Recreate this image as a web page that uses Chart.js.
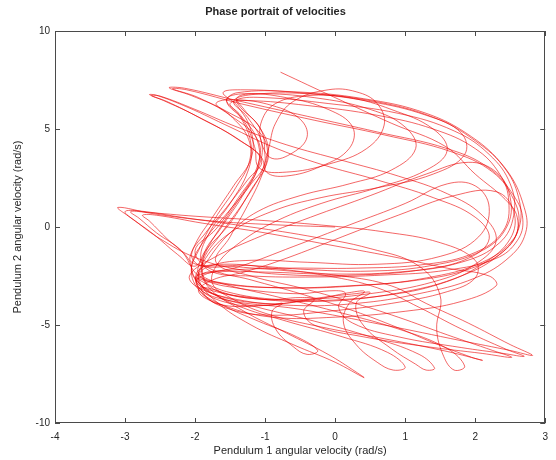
<!DOCTYPE html>
<html>
<head>
<meta charset="utf-8">
<title>Phase portrait of velocities</title>
<script src="https://cdn.jsdelivr.net/npm/chart.js@4.4.1/dist/chart.umd.min.js"></script>
<style>
  html, body { margin: 0; padding: 0; background: #ffffff; }
  canvas { display: block; }
</style>
</head>
<body>
<canvas id="phaseChart" width="556" height="460"></canvas>
<script>
// Axis ticks
const xTicks = [-4, -3, -2, -1, 0, 1, 2, 3];
const yTicks = [-10, -5, 0, 5, 10];

// Trajectory, piece by piece: [omega1, omega2] in rad/s
const startRun = [[0.0,0.0],[-0.9,0.12],[-1.8,0.32],[-2.6,0.68],[-3.1,1.0],[-2.95,0.55],[-2.6,-0.35],[-2.25,-1.4],[-2.0,-2.0]];
const tipLoopA = [[-1.85,-1.2],[-1.5,0.2],[-1.2,1.9],[-0.98,3.3],[-1.05,4.7],[-1.55,5.9],[-2.05,6.7],[-2.37,7.1],[-2.15,7.08],[-1.4,6.45],[-0.4,5.65],[0.6,4.85],[1.6,4.0],[2.2,3.0],[2.55,1.6],[2.68,0.4],[2.6,-0.7],[2.3,-1.6],[1.6,-2.2],[0.7,-2.45],[-0.3,-2.55],[-1.2,-2.5],[-1.75,-2.3]];
const eyeLoop1 = [[-1.92,-1.6],[-1.78,-0.2],[-1.5,1.2],[-1.25,2.8],[-1.2,4.2],[-1.35,5.6],[-1.55,6.5],[-1.3,6.8],[-0.7,6.6],[-0.1,6.0],[0.25,5.1],[0.2,4.0],[-0.2,3.1],[-0.7,2.6],[-0.98,2.8]];
const eyeLoop2 = [[-1.0,3.6],[-1.05,4.9],[-1.3,6.0],[-1.4,6.6],[-1.1,6.8],[-0.3,6.6],[0.5,6.0],[1.0,5.1],[1.15,4.0],[0.8,2.9],[0.2,2.2],[-0.5,1.6],[-1.1,0.8],[-1.5,-0.3],[-1.8,-1.6],[-1.98,-2.8]];
const wing1 = [[-1.7,-3.6],[-0.5,-4.2],[0.7,-5.0],[1.8,-5.8],[2.5,-6.3],[2.82,-6.55],[2.5,-6.0],[1.9,-4.9],[1.3,-3.9],[0.8,-3.0],[0.1,-2.5],[-0.8,-2.2],[-1.5,-2.0],[-2.05,-1.8]];
const bigLoop1 = [[-2.0,-0.9],[-1.75,0.5],[-1.45,2.1],[-1.2,3.5],[-1.2,4.9],[-1.4,6.2],[-1.6,6.85],[-1.35,7.0],[-0.5,6.85],[0.5,6.45],[1.4,5.6],[2.0,4.4],[2.45,2.9],[2.7,1.0],[2.72,-0.3],[2.5,-1.5],[2.0,-2.6],[1.2,-3.4],[0.3,-3.9],[-0.6,-4.0],[-1.4,-3.7],[-1.95,-3.1],[-2.08,-2.5]];
const diagLoop1 = [[-1.8,-1.7],[-1.15,-0.6],[-0.35,0.5],[0.5,1.6],[1.3,2.7],[1.9,3.3],[2.3,2.8],[2.5,1.5],[2.45,0.0],[2.1,-1.2],[1.4,-1.95],[0.5,-2.25],[-0.5,-2.15],[-1.3,-1.95],[-1.9,-2.0]];
const tipLoopB = [[-2.05,-1.4],[-1.85,-0.3],[-1.55,1.0],[-1.25,2.4],[-1.05,3.4],[-1.4,4.5],[-2.0,5.7],[-2.45,6.45],[-2.65,6.75],[-2.55,6.72],[-2.1,6.1],[-1.5,5.1],[-0.9,4.1],[-0.2,3.2],[0.6,2.4],[1.4,1.5],[2.0,0.5],[2.2,-0.6],[1.9,-1.6],[1.2,-2.2],[0.3,-2.45],[-0.6,-2.45],[-1.4,-2.15],[-2.0,-1.55],[-2.5,-0.6],[-2.85,0.3],[-3.0,0.78],[-2.8,0.82],[-2.2,0.5],[-1.3,0.05],[-0.4,-0.45],[0.5,-1.1],[1.2,-2.0],[1.5,-3.5],[1.45,-5.2],[1.55,-6.6],[1.7,-7.3],[1.85,-7.1],[1.6,-6.2],[0.9,-5.2],[0.0,-4.3],[-0.9,-3.5],[-1.6,-2.9],[-1.95,-2.4]];
const eyeLoop3 = [[-1.85,-1.3],[-1.6,0.2],[-1.32,1.7],[-1.1,3.0],[-1.05,4.3],[-1.25,5.6],[-1.45,6.4],[-1.2,6.75],[-0.4,6.8],[0.5,6.4],[1.3,5.7],[1.8,4.8],[1.85,3.7],[1.4,2.7],[0.6,2.0],[-0.2,1.5],[-0.9,0.8],[-1.5,-0.3],[-1.85,-1.6],[-1.95,-2.8]];
const wing2 = [[-1.7,-3.3],[-1.0,-3.7],[-0.5,-3.6],[-0.3,-3.7],[-0.45,-4.3],[-0.3,-5.0],[0.4,-5.6],[1.3,-6.1],[2.1,-6.45],[2.52,-6.65],[2.25,-6.3],[1.6,-5.5],[0.9,-4.6],[0.2,-3.8],[-0.5,-3.1],[-1.2,-2.5],[-1.7,-1.8]];
const bigLoop2 = [[-1.5,-0.5],[-1.25,1.1],[-1.05,2.6],[-0.95,3.9],[-1.1,5.2],[-1.35,6.1],[-1.4,6.5],[-1.0,6.6],[-0.1,6.3],[0.9,5.8],[1.7,4.9],[2.2,3.7],[2.5,2.2],[2.55,0.6],[2.35,-0.8],[1.8,-1.8],[0.9,-2.3],[-0.1,-2.4],[-1.0,-2.3],[-1.7,-2.3],[-2.0,-2.6]];
const hookLoop1 = [[-1.75,-3.4],[-1.0,-3.9],[-0.3,-3.7],[0.2,-3.35],[0.42,-3.3],[0.2,-3.9],[0.12,-4.9],[0.3,-6.0],[0.6,-6.9],[0.83,-7.3],[1.0,-7.15],[0.75,-6.4],[0.1,-5.6],[-0.7,-4.8],[-1.4,-4.0],[-1.9,-3.0],[-2.05,-2.2]];
const eyeLoop5 = [[-1.95,-1.2],[-1.72,0.4],[-1.42,2.0],[-1.22,3.4],[-1.25,4.6],[-1.5,5.7],[-1.7,6.3],[-1.45,6.5],[-0.9,6.2],[-0.5,5.5],[-0.4,4.6],[-0.6,3.8],[-0.9,3.5],[-1.05,4.3],[-1.05,5.4],[-0.85,6.3],[-0.4,6.7],[0.2,6.6],[0.8,6.0],[1.4,5.0],[1.6,3.9],[1.3,2.9],[0.6,2.0],[-0.2,1.2],[-0.9,0.2],[-1.4,-0.9],[-1.7,-2.0],[-1.75,-2.9]];
const wing3 = [[-1.5,-3.6],[-1.0,-4.4],[-0.2,-5.1],[0.7,-5.7],[1.6,-6.35],[2.1,-6.8],[1.95,-6.65],[1.4,-5.9],[0.8,-5.0],[0.2,-4.2],[-0.5,-3.4],[-1.2,-2.7],[-1.8,-2.1]];
const tipLoopC = [[-2.0,-1.2],[-1.7,-0.1],[-1.38,1.5],[-1.12,3.0],[-1.1,4.4],[-1.5,5.7],[-1.95,6.6],[-2.32,7.05],[-2.12,7.0],[-1.3,6.25],[-0.3,5.45],[0.7,4.7],[1.65,3.85],[2.25,2.8],[2.55,1.4],[2.62,0.1],[2.45,-1.1],[1.95,-2.1],[1.2,-2.7],[0.2,-3.0],[-0.8,-3.1],[-1.6,-2.9],[-1.95,-2.5]];
const leftTipLoop = [[-2.2,-1.2],[-2.55,-0.3],[-2.8,0.45],[-2.92,0.78],[-2.7,0.75],[-2.0,0.55],[-1.1,0.35],[-0.2,0.1],[0.7,-0.25],[1.5,-0.8],[2.0,-1.7],[2.0,-2.6],[1.6,-3.3],[0.8,-3.9],[-0.1,-4.3],[-0.9,-4.5],[-1.5,-4.2],[-1.9,-3.4]];
const diagLoop2 = [[-1.95,-2.6],[-1.35,-2.0],[-0.6,-1.0],[0.2,0.1],[1.0,1.2],[1.6,2.2],[2.0,2.1],[2.2,1.0],[2.05,-0.5],[1.5,-1.5],[0.6,-1.9],[-0.4,-1.8],[-1.2,-1.7],[-1.8,-2.0],[-1.95,-2.6]];
const lowTipLoop = [[-1.7,-3.8],[-1.2,-5.0],[-0.6,-6.0],[0.0,-6.9],[0.41,-7.68],[0.3,-7.4],[-0.1,-6.5],[-0.7,-5.4],[-1.3,-4.3],[-1.8,-3.1]];
const eyeLoop4 = [[-1.9,-1.9],[-1.62,-0.3],[-1.3,1.3],[-1.05,2.8],[-0.95,4.0],[-0.85,5.3],[-0.6,6.4],[-0.1,7.0],[0.3,6.9],[0.6,6.3],[0.7,5.2],[0.45,4.0],[-0.1,3.2],[-0.7,2.8],[-1.08,3.0]];
const bigLoop3 = [[-1.15,4.1],[-1.3,5.4],[-1.55,6.4],[-1.4,6.85],[-0.6,6.9],[0.4,6.55],[1.3,5.8],[1.95,4.6],[2.4,3.1],[2.62,1.5],[2.62,-0.1],[2.35,-1.4],[1.8,-2.5],[1.0,-3.3],[0.1,-3.7],[-0.8,-3.7],[-1.55,-3.3],[-1.98,-2.6]];
const wing4 = [[-1.6,-3.0],[-0.6,-3.4],[0.0,-3.25],[0.15,-3.4],[0.05,-4.1],[0.25,-4.9],[0.9,-5.6],[1.8,-6.15],[2.4,-6.45],[2.7,-6.6],[2.45,-6.25],[1.8,-5.2],[1.2,-4.1],[0.6,-3.1],[-0.1,-2.5],[-0.9,-2.1],[-1.6,-1.9],[-1.95,-2.2]];
const hookLoop2 = [[-1.95,-3.1],[-1.5,-3.9],[-0.95,-4.0],[-0.75,-3.9],[-0.9,-4.3],[-0.85,-5.2],[-0.6,-6.1],[-0.4,-6.5],[-0.25,-6.3],[-0.55,-5.6],[-1.1,-4.8],[-1.6,-4.0],[-1.95,-3.2]];
const tipLoopD = [[-2.05,-2.0],[-1.85,-0.6],[-1.52,0.8],[-1.2,2.2],[-1.02,3.3],[-1.35,4.4],[-1.95,5.6],[-2.4,6.4],[-2.62,6.7],[-2.5,6.68],[-2.0,6.0],[-1.4,5.1],[-0.7,4.2],[0.1,3.4],[0.9,2.6],[1.6,1.7],[2.1,0.6],[2.3,-0.7],[2.0,-1.9],[1.4,-2.8],[0.5,-3.4],[-0.5,-3.7],[-1.3,-3.6],[-1.9,-3.1]];
const hookLoop3 = [[-1.7,-3.9],[-1.0,-4.0],[-0.2,-3.6],[0.3,-3.4],[0.5,-3.35],[0.3,-3.9],[0.4,-5.0],[0.8,-6.2],[1.15,-7.0],[1.3,-7.3],[1.42,-7.2],[1.2,-6.5],[0.5,-5.6],[-0.3,-4.8],[-1.1,-4.1],[-1.7,-3.5],[-2.0,-2.6]];
const leftTipLoop2 = [[-2.1,-1.6],[-2.4,-0.6],[-2.65,0.3],[-2.75,0.6],[-2.55,0.6],[-1.9,0.2],[-1.0,-0.3],[-0.1,-0.9],[0.8,-1.5],[1.6,-2.1],[2.2,-2.5],[2.3,-3.0],[1.8,-3.8],[1.0,-4.3],[0.0,-4.6],[-0.9,-4.6],[-1.6,-4.0],[-1.95,-3.3]];
const diagLoop3 = [[-1.75,-2.7],[-1.3,-2.3],[-0.7,-1.6],[0.1,-0.5],[0.9,0.6],[1.7,1.6],[2.3,1.8],[2.55,0.8],[2.5,-0.6],[2.1,-1.9],[1.5,-2.9],[0.7,-3.5],[-0.3,-3.8],[-1.2,-3.6],[-1.8,-3.0]];
const bigLoop4 = [[-1.88,-1.5],[-1.62,0.0],[-1.32,1.6],[-1.1,3.1],[-1.12,4.5],[-1.35,5.7],[-1.5,6.3],[-1.25,6.45],[-0.4,6.2],[0.6,5.7],[1.4,5.0],[2.0,4.0],[2.35,2.7],[2.48,1.3],[2.4,-0.2],[2.0,-1.3],[1.3,-1.9],[0.3,-2.1],[-0.7,-2.1],[-1.5,-2.2],[-1.9,-2.4]];
const endRun = [[-1.7,-2.8],[-0.8,-3.1],[0.3,-3.0],[1.3,-2.6],[2.1,-1.8],[2.55,-0.6],[2.6,0.5],[2.43,1.4],[2.0,2.7],[1.58,4.1],[0.8,5.3],[0.0,6.6],[-0.78,7.9]];

const pieces = [startRun, tipLoopA, eyeLoop1, eyeLoop2, wing1, bigLoop1, diagLoop1, tipLoopB,
  eyeLoop3, wing2, bigLoop2, hookLoop1, eyeLoop5, wing3, tipLoopC, leftTipLoop, diagLoop2,
  lowTipLoop, eyeLoop4, bigLoop3, wing4, hookLoop2, tipLoopD, hookLoop3, leftTipLoop2,
  diagLoop3, bigLoop4, endRun];

const trajectory = [];
pieces.forEach(p => p.forEach(pt => trajectory.push({x: pt[0], y: pt[1]})));

const axisColor = '#4a4a4a';
const textColor = '#262626';
const fontFamily = '"Liberation Sans", Arial, Helvetica, sans-serif';

// Box round the plot with inward tick marks, Octave style
const framePlugin = {
  id: 'frame',
  afterDatasetsDraw(chart) {
    const {ctx, chartArea: a, scales: {x, y}} = chart;
    const len = 5;
    ctx.save();
    ctx.strokeStyle = axisColor;
    ctx.lineWidth = 1;
    ctx.strokeRect(Math.round(a.left) + 0.5, Math.round(a.top) + 0.5,
      Math.round(a.width) - 1, Math.round(a.height) - 1);
    ctx.beginPath();
    xTicks.forEach(v => {
      const px = Math.round(x.getPixelForValue(v)) + 0.5;
      ctx.moveTo(px, a.bottom); ctx.lineTo(px, a.bottom - len);
      ctx.moveTo(px, a.top); ctx.lineTo(px, a.top + len);
    });
    yTicks.forEach(v => {
      const py = Math.round(y.getPixelForValue(v)) + 0.5;
      ctx.moveTo(a.left, py); ctx.lineTo(a.left + len, py);
      ctx.moveTo(a.right, py); ctx.lineTo(a.right - len, py);
    });
    ctx.stroke();
    ctx.restore();
  }
};

new Chart(document.getElementById('phaseChart'), {
  type: 'scatter',
  data: {
    datasets: [{
      data: trajectory,
      showLine: true,
      borderColor: 'rgba(235, 0, 0, 0.8)',
      borderWidth: 0.75,
      pointRadius: 0,
      tension: 0.4,
      fill: false
    }]
  },
  options: {
    responsive: false,
    animation: false,
    layout: { padding: { top: 0, right: 5, bottom: 0, left: 0 } },
    plugins: {
      legend: { display: false },
      tooltip: { enabled: false },
      title: {
        display: true,
        text: 'Phase portrait of velocities',
        color: textColor,
        font: { family: fontFamily, size: 11, weight: 'bold' },
        padding: { top: 5, bottom: 12.8 }
      }
    },
    scales: {
      x: {
        type: 'linear',
        min: -4, max: 3,
        afterFit(scale) { scale.height = 37; },
        afterBuildTicks(scale) { scale.ticks = xTicks.map(v => ({value: v})); },
        grid: { display: false, drawTicks: false },
        border: { display: false },
        ticks: { color: textColor, padding: 8, font: { family: fontFamily, size: 10 } },
        title: {
          display: true,
          text: 'Pendulum 1 angular velocity (rad/s)',
          color: textColor,
          font: { family: fontFamily, size: 11 },
          padding: { top: 0, bottom: 2 }
        }
      },
      y: {
        type: 'linear',
        min: -10, max: 10,
        afterFit(scale) { scale.width = 55; },
        afterBuildTicks(scale) { scale.ticks = yTicks.map(v => ({value: v})); },
        grid: { display: false, drawTicks: false },
        border: { display: false },
        ticks: { color: textColor, padding: 5, font: { family: fontFamily, size: 10 } },
        title: {
          display: true,
          text: 'Pendulum 2 angular velocity (rad/s)',
          color: textColor,
          font: { family: fontFamily, size: 11 },
          padding: { top: 11, bottom: 0 }
        }
      }
    }
  },
  plugins: [framePlugin]
});
</script>
</body>
</html>
